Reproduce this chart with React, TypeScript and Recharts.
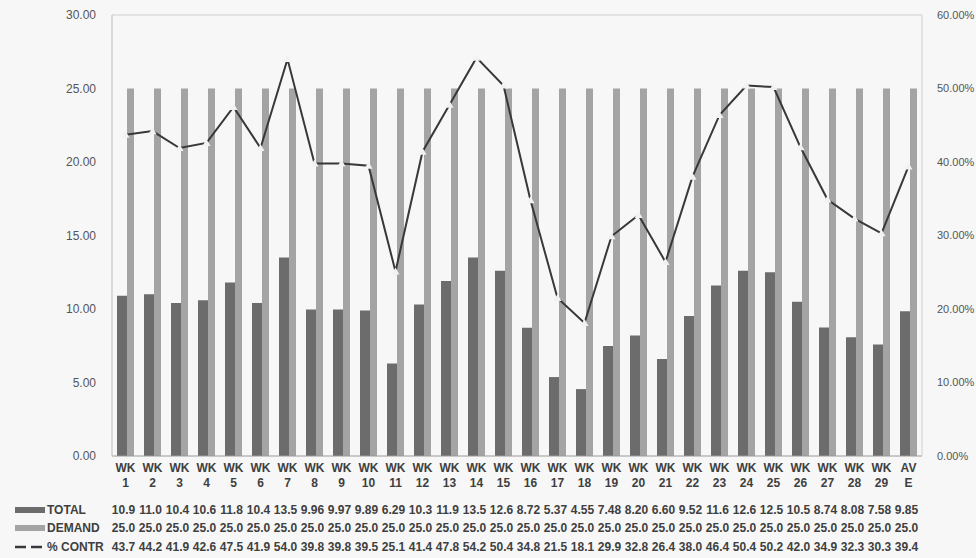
import React from "react";
import {
  ComposedChart,
  Bar,
  Line,
  XAxis,
  YAxis,
  ReferenceLine,
} from "recharts";

const categories = [
  "WK 1", "WK 2", "WK 3", "WK 4", "WK 5", "WK 6", "WK 7", "WK 8", "WK 9", "WK 10",
  "WK 11", "WK 12", "WK 13", "WK 14", "WK 15", "WK 16", "WK 17", "WK 18", "WK 19", "WK 20",
  "WK 21", "WK 22", "WK 23", "WK 24", "WK 25", "WK 26", "WK 27", "WK 28", "WK 29", "AVE",
];

const total = [
  10.9, 11.0, 10.4, 10.6, 11.8, 10.4, 13.5, 9.96, 9.97, 9.89,
  6.29, 10.3, 11.9, 13.5, 12.6, 8.72, 5.37, 4.55, 7.48, 8.2,
  6.6, 9.52, 11.6, 12.6, 12.5, 10.5, 8.74, 8.08, 7.58, 9.85,
];

const demand = [
  25, 25, 25, 25, 25, 25, 25, 25, 25, 25,
  25, 25, 25, 25, 25, 25, 25, 25, 25, 25,
  25, 25, 25, 25, 25, 25, 25, 25, 25, 25,
];

const contr = [
  43.7, 44.2, 41.9, 42.6, 47.5, 41.9, 54.0, 39.8, 39.8, 39.5,
  25.1, 41.4, 47.8, 54.2, 50.4, 34.8, 21.5, 18.1, 29.9, 32.8,
  26.4, 38.0, 46.4, 50.4, 50.2, 42.0, 34.9, 32.3, 30.3, 39.4,
];

const leftTicks = [0, 5, 10, 15, 20, 25, 30];
const rightTicks = [0, 10, 20, 30, 40, 50, 60];

const DARK = "#6c6c6c";
const LIGHT = "#a4a4a4";
const LINE = "#383838";
const TEXT = "#3f3f3f";
const FONT = "'Liberation Sans', Arial, sans-serif";

const data = categories.map((c, i) => ({
  name: c,
  total: total[i],
  demand: demand[i],
  contr: contr[i],
}));

const fmt = (v: number) => v.toPrecision(3);

function splitLabel(s: string): [string, string] {
  const sp = s.indexOf(" ");
  if (sp >= 0) return [s.slice(0, sp), s.slice(sp + 1)];
  return [s.slice(0, 2), s.slice(2)];
}

function CategoryTick(props: any) {
  const { x, y, payload } = props;
  const i = categories.indexOf(payload.value);
  const [a, b] = splitLabel(payload.value);
  const tx = { fontFamily: FONT, fontSize: 12, fontWeight: 700, fill: TEXT } as const;
  const vx = x - 2;
  return (
    <g>
      <text x={x} y={y + 12} textAnchor="middle" dominantBaseline="central" {...tx}>{a}</text>
      <text x={x} y={y + 27} textAnchor="middle" dominantBaseline="central" {...tx}>{b}</text>
      <text x={vx} y={y + 54} textAnchor="middle" dominantBaseline="central" {...tx}>{fmt(total[i])}</text>
      <text x={vx} y={y + 72} textAnchor="middle" dominantBaseline="central" {...tx}>{fmt(demand[i])}</text>
      <text x={vx} y={y + 91} textAnchor="middle" dominantBaseline="central" {...tx}>{fmt(contr[i])}</text>
      {i === 0 && (
        <g>
          <rect x={15} y={y + 51} width={30} height={6} fill={DARK} />
          <text x={47} y={y + 54} dominantBaseline="central" {...tx}>TOTAL</text>
          <rect x={15} y={y + 69} width={30} height={6} fill={LIGHT} />
          <text x={47} y={y + 72} dominantBaseline="central" {...tx}>DEMAND</text>
          <line x1={15} x2={44} y1={y + 91} y2={y + 91} stroke={LINE} strokeWidth={2.5} strokeDasharray="11 5" />
          <text x={47} y={y + 91} dominantBaseline="central" {...tx}>% CONTR</text>
        </g>
      )}
    </g>
  );
}

function TriangleDot(props: any) {
  const { cx, cy } = props;
  if (cx == null || cy == null) return null;
  return (
    <path
      d={`M${cx},${cy - 4} L${cx + 4},${cy + 3} L${cx - 4},${cy + 3} Z`}
      fill="#f2f2f2"
      stroke="none"
    />
  );
}

export default function App() {
  return (
    <div style={{ position: "absolute", left: 0, top: 0, width: 976, height: 558, background: "#f7f7f7" }}>
      <ComposedChart
        width={976}
        height={558}
        data={data}
        margin={{ top: 15, right: 0, bottom: 0, left: 0 }}
        barGap={0}
      >
        <XAxis
          dataKey="name"
          height={102}
          interval={0}
          tickLine={false}
          tickSize={0}
          tickMargin={0}
          axisLine={{ stroke: "#9a9a9a" }}
          tick={<CategoryTick />}
        />
        <YAxis
          yAxisId="l"
          orientation="left"
          width={112}
          domain={[0, 30]}
          ticks={leftTicks}
          tickFormatter={(v: number) => v.toFixed(2)}
          tickLine={false}
          tickMargin={10}
          axisLine={{ stroke: "#bdbdbd" }}
          tick={{ fontFamily: FONT, fontSize: 12, fill: "#555" }}
        />
        <YAxis
          yAxisId="r"
          orientation="right"
          width={54}
          domain={[0, 60]}
          ticks={rightTicks}
          tickFormatter={(v: number) => v.toFixed(2) + "%"}
          tickLine={false}
          tickMargin={9}
          axisLine={{ stroke: "#cfcfcf" }}
          tick={{ fontFamily: FONT, fontSize: 11, fill: "#555", textAnchor: "start" }}
        />
        <ReferenceLine yAxisId="l" y={30} stroke="#cfcfcf" />
        <Bar yAxisId="l" dataKey="total" name="TOTAL" fill={DARK} barSize={10} isAnimationActive={false} />
        <Bar yAxisId="l" dataKey="demand" name="DEMAND" fill={LIGHT} barSize={7} isAnimationActive={false} />
        <Line
          yAxisId="r"
          dataKey="contr"
          name="% CONTR"
          type="linear"
          stroke={LINE}
          strokeWidth={2}
          dot={<TriangleDot />}
          activeDot={false}
          isAnimationActive={false}
        />
      </ComposedChart>
    </div>
  );
}
